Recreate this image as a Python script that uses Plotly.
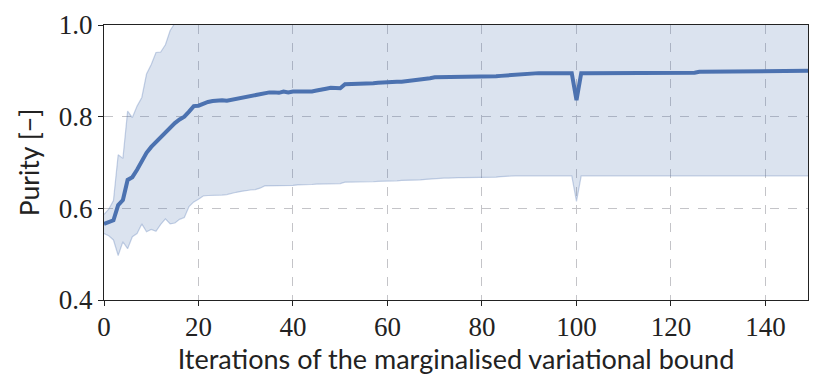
import numpy as np
import plotly.graph_objects as go

# iteration index
iterations = list(range(150))

# mean purity per iteration
purity_mean = [
    0.566, 0.569, 0.574, 0.607, 0.618, 0.662, 0.668, 0.684, 0.704, 0.721,
    0.734, 0.745, 0.753, 0.767, 0.777, 0.786, 0.794, 0.800, 0.811, 0.823,
    0.824, 0.829, 0.832, 0.834, 0.836, 0.836, 0.835, 0.837, 0.839, 0.842,
    0.844, 0.846, 0.848, 0.850, 0.853, 0.853, 0.853, 0.852, 0.855, 0.853,
    0.855, 0.855, 0.854, 0.855, 0.855, 0.857, 0.858, 0.861, 0.863, 0.863,
    0.862, 0.871, 0.871, 0.871, 0.872, 0.872, 0.873, 0.873, 0.874, 0.875,
    0.876, 0.876, 0.876, 0.876, 0.877, 0.878, 0.879, 0.880, 0.882, 0.884,
    0.886, 0.886, 0.887, 0.887, 0.887, 0.887, 0.887, 0.887, 0.887, 0.887,
    0.887, 0.887, 0.888, 0.888, 0.889, 0.890, 0.891, 0.891, 0.892, 0.893,
    0.894, 0.895, 0.895, 0.895, 0.895, 0.895, 0.895, 0.895, 0.895, 0.895,
    0.836, 0.895, 0.895, 0.895, 0.895, 0.895, 0.895, 0.895, 0.895, 0.895,
    0.895, 0.895, 0.895, 0.895, 0.895, 0.897, 0.897, 0.897, 0.897, 0.897,
    0.897, 0.897, 0.897, 0.896, 0.896, 0.896, 0.898, 0.898, 0.898, 0.898,
    0.899, 0.899, 0.899, 0.899, 0.899, 0.899, 0.899, 0.899, 0.899, 0.899,
    0.900, 0.900, 0.900, 0.900, 0.900, 0.900, 0.900, 0.900, 0.900, 0.900,
]

# standard deviation per iteration
purity_std = [
    0.021, 0.029, 0.043, 0.110, 0.091, 0.150, 0.130, 0.139, 0.138, 0.172,
    0.180, 0.195, 0.188, 0.190, 0.211, 0.218, 0.218, 0.220, 0.207, 0.209,
    0.204, 0.202, 0.204, 0.206, 0.207, 0.207, 0.205, 0.204, 0.204, 0.205,
    0.205, 0.206, 0.207, 0.206, 0.204, 0.204, 0.204, 0.203, 0.205, 0.203,
    0.205, 0.204, 0.203, 0.204, 0.203, 0.204, 0.205, 0.207, 0.209, 0.209,
    0.208, 0.214, 0.214, 0.214, 0.214, 0.214, 0.215, 0.215, 0.215, 0.216,
    0.216, 0.216, 0.216, 0.215, 0.216, 0.217, 0.217, 0.218, 0.219, 0.220,
    0.221, 0.220, 0.221, 0.221, 0.220, 0.220, 0.220, 0.220, 0.219, 0.219,
    0.219, 0.219, 0.220, 0.220, 0.220, 0.220, 0.220, 0.220, 0.221, 0.222,
    0.223, 0.224, 0.224, 0.224, 0.224, 0.224, 0.224, 0.224, 0.224, 0.224,
    0.221, 0.224, 0.224, 0.224, 0.224, 0.224, 0.224, 0.224, 0.224, 0.224,
    0.224, 0.224, 0.224, 0.224, 0.224, 0.226, 0.226, 0.226, 0.226, 0.226,
    0.226, 0.226, 0.226, 0.225, 0.225, 0.225, 0.227, 0.227, 0.227, 0.227,
    0.228, 0.228, 0.228, 0.228, 0.228, 0.228, 0.228, 0.228, 0.228, 0.228,
    0.229, 0.229, 0.229, 0.229, 0.229, 0.229, 0.229, 0.229, 0.229, 0.229,
]

x_ticks = [0, 20, 40, 60, 80, 100, 120, 140]
y_ticks = [0.4, 0.6, 0.8, 1.0]
y_tick_labels = ["0.4", "0.6", "0.8", "1.0"]

mean = np.array(purity_mean)
std = np.array(purity_std)
lower = mean - std
upper = mean + std

blue = "#4c72b0"

fig = go.Figure()

# band: lower edge then upper edge filled down to it
fig.add_trace(go.Scatter(
    x=iterations, y=lower, mode="lines",
    line=dict(color="rgba(76,114,176,0.3)", width=1.2),
    hoverinfo="skip",
))
fig.add_trace(go.Scatter(
    x=iterations, y=upper, mode="lines",
    line=dict(color="rgba(76,114,176,0.3)", width=1.2),
    fill="tonexty", fillcolor="rgba(76,114,176,0.2)",
    hoverinfo="skip",
))
fig.add_trace(go.Scatter(
    x=iterations, y=mean, mode="lines",
    line=dict(color=blue, width=4),
))

axis_common = dict(
    showline=True, linecolor="#222", linewidth=1.3, mirror=True,
    ticks="outside", ticklen=5, tickcolor="#222", tickwidth=1.3,
    showgrid=True, gridcolor="#c4c4c8", griddash="dash", gridwidth=1.2,
    zeroline=False, automargin=False, ticklabeloverflow="allow",
    tickfont=dict(family="Liberation Serif, DejaVu Serif, serif", size=27, color="#222"),
)

fig.update_xaxes(
    range=[0, 149], tickvals=x_ticks, ticklabelstandoff=-3,
    title=dict(text="Iterations of the marginalised variational bound",
               font=dict(family="Lato", size=27, color="#222"), standoff=0),
    **axis_common,
)
fig.update_yaxes(
    range=[0.4, 1.0], tickvals=y_ticks, ticktext=y_tick_labels,
    title=dict(text="Purity [\u2212]",
               font=dict(family="Lato", size=26.5, color="#222"), standoff=11),
    **axis_common,
)

# the page body adds an 8px offset, so the figure is sized to compensate
fig.update_layout(
    width=823, height=382,
    showlegend=False,
    plot_bgcolor="white", paper_bgcolor="white",
    margin=dict(l=96, r=23, t=17, b=90),
)

fig.write_html("out.html")
